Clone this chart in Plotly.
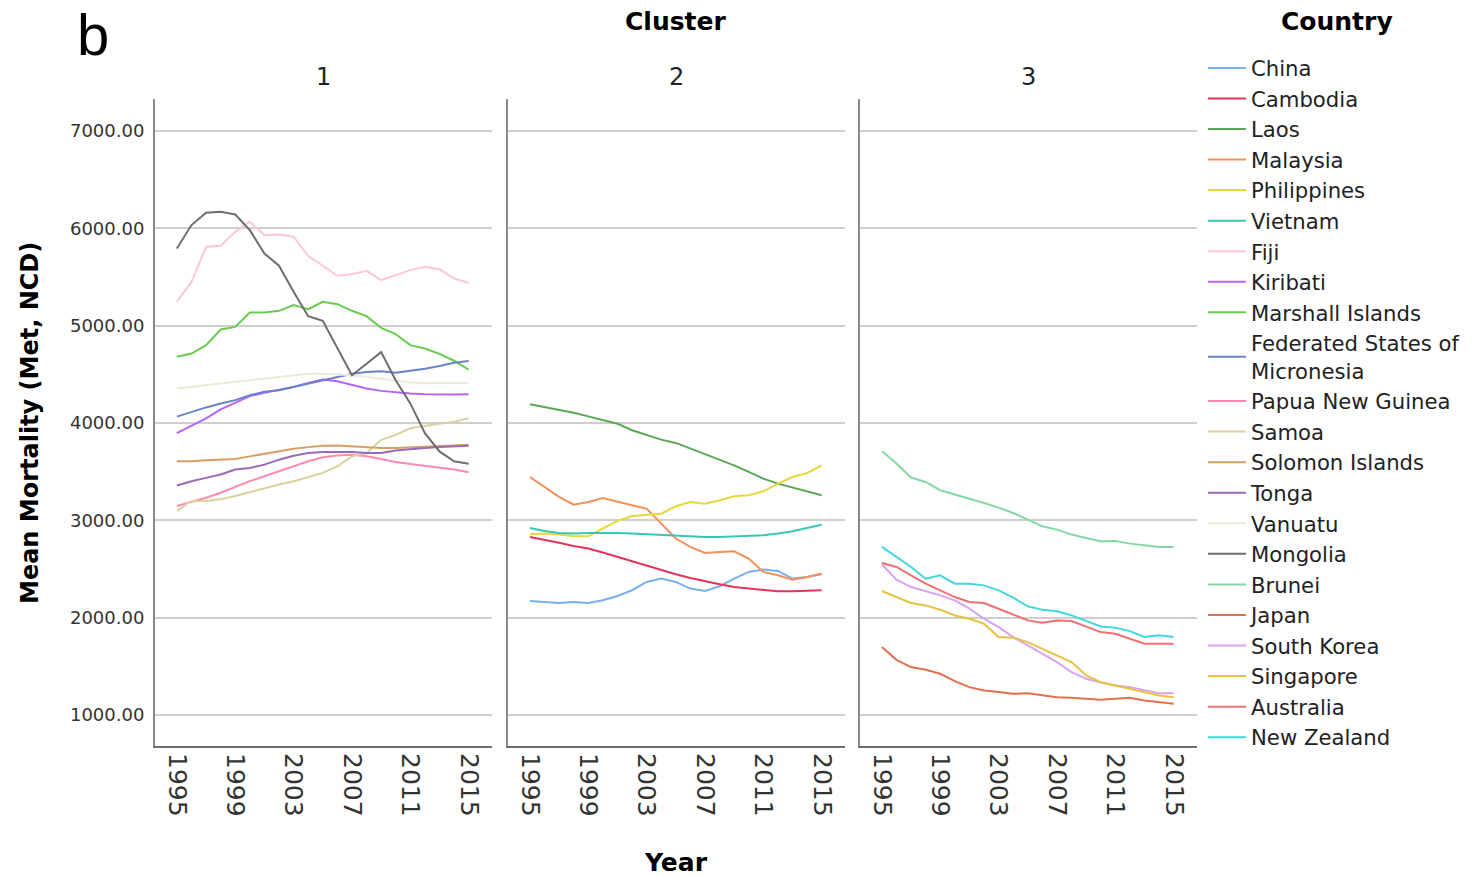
import plotly.graph_objects as go

W, H = 1475, 878
ML, MR, MT, MB = 155, 278, 99, 132
PW, PH = W - ML - MR, H - MT - MB

years = list(range(1995, 2016))
year_ticks = [1995, 1999, 2003, 2007, 2011, 2015]
mortality_ticks = [1000, 2000, 3000, 4000, 5000, 6000, 7000]
cluster_labels = ["1", "2", "3"]

# Cluster 2
china = [2171, 2161, 2151, 2161, 2151, 2178, 2222, 2281, 2366, 2401, 2366,
         2298, 2274, 2322, 2401, 2469, 2493, 2479, 2401, 2418, 2445]
cambodia = [2829, 2801, 2770, 2736, 2709, 2668, 2623, 2572, 2527, 2486, 2445,
            2407, 2373, 2342, 2315, 2298, 2281, 2270, 2270, 2274, 2281]
laos = [4192, 4164, 4137, 4106, 4068, 4027, 3993, 3925, 3873, 3829, 3795,
        3736, 3678, 3623, 3565, 3497, 3428, 3377, 3336, 3291, 3257]
malaysia = [3445, 3342, 3240, 3161, 3188, 3229, 3188, 3154, 3120, 2966, 2812,
            2726, 2664, 2675, 2681, 2606, 2469, 2435, 2390, 2418, 2452]
philippines = [2856, 2863, 2853, 2836, 2836, 2914, 2993, 3044, 3058, 3068, 3144,
               3188, 3171, 3205, 3247, 3257, 3298, 3377, 3445, 3486, 3565]
vietnam = [2921, 2890, 2870, 2863, 2870, 2873, 2870, 2863, 2856, 2846, 2839,
           2836, 2829, 2829, 2836, 2839, 2846, 2863, 2887, 2921, 2955]

# Cluster 1
fiji = [5245, 5451, 5811, 5821, 5965, 6068, 5931, 5938, 5914, 5715, 5616,
        5513, 5530, 5564, 5468, 5520, 5571, 5605, 5581, 5485, 5441]
kiribati = [3895, 3970, 4048, 4140, 4208, 4276, 4310, 4337, 4371, 4412, 4446,
            4429, 4388, 4354, 4330, 4313, 4303, 4296, 4292, 4292, 4296]
marshall_islands = [4680, 4714, 4800, 4961, 4988, 5136, 5136, 5153, 5211, 5170, 5245,
                    5221, 5153, 5098, 4978, 4913, 4800, 4766, 4710, 4640, 4548]
micronesia = [4065, 4116, 4160, 4201, 4235, 4286, 4320, 4337, 4371, 4405, 4439,
              4466, 4507, 4524, 4531, 4517, 4534, 4558, 4585, 4619, 4636]
papua_new_guinea = [3147, 3188, 3232, 3283, 3344, 3402, 3453, 3504, 3555, 3606, 3647,
                    3667, 3674, 3657, 3630, 3599, 3579, 3562, 3545, 3521, 3494]
samoa = [3096, 3198, 3198, 3215, 3249, 3290, 3334, 3368, 3402, 3446, 3487,
         3555, 3657, 3691, 3827, 3878, 3946, 3970, 3990, 4014, 4048]
solomon_islands = [3606, 3606, 3616, 3623, 3630, 3657, 3684, 3708, 3735, 3752, 3766,
                   3769, 3759, 3752, 3742, 3742, 3749, 3752, 3759, 3769, 3776]
tonga = [3358, 3402, 3436, 3470, 3521, 3538, 3572, 3623, 3664, 3691, 3701,
         3701, 3701, 3691, 3691, 3718, 3732, 3742, 3752, 3759, 3766]
vanuatu = [4354, 4371, 4388, 4405, 4422, 4439, 4456, 4480, 4497, 4507, 4507,
           4500, 4490, 4473, 4456, 4432, 4415, 4412, 4412, 4412, 4412]
mongolia = [5794, 6034, 6160, 6171, 6143, 5982, 5742, 5616, 5348, 5098, 5050,
            4772, 4490, 4609, 4728, 4439, 4201, 3895, 3708, 3606, 3582]

# Cluster 3
brunei = [3713, 3583, 3439, 3394, 3309, 3268, 3223, 3178, 3130, 3075, 3007,
          2938, 2904, 2853, 2818, 2784, 2787, 2760, 2743, 2726, 2726]
japan = [1697, 1566, 1491, 1463, 1422, 1347, 1285, 1251, 1234, 1216, 1223,
         1199, 1182, 1175, 1162, 1155, 1165, 1175, 1148, 1131, 1114]
south_korea = [2547, 2389, 2314, 2273, 2228, 2177, 2091, 1988, 1902, 1800, 1714,
               1628, 1542, 1439, 1371, 1336, 1302, 1285, 1251, 1223, 1223]
singapore = [2273, 2211, 2150, 2125, 2081, 2022, 1988, 1937, 1800, 1793, 1748,
             1679, 1611, 1542, 1405, 1336, 1302, 1268, 1234, 1200, 1182]
australia = [2561, 2520, 2434, 2348, 2280, 2211, 2160, 2150, 2091, 2033, 1971,
             1947, 1971, 1964, 1909, 1851, 1834, 1782, 1731, 1731, 1731]
new_zealand = [2726, 2623, 2520, 2400, 2434, 2348, 2348, 2331, 2280, 2204, 2115,
               2081, 2064, 2023, 1964, 1909, 1896, 1861, 1800, 1817, 1800]

# (legend label, cluster, series)
countries = [
    ("China", 2, china),
    ("Cambodia", 2, cambodia),
    ("Laos", 2, laos),
    ("Malaysia", 2, malaysia),
    ("Philippines", 2, philippines),
    ("Vietnam", 2, vietnam),
    ("Fiji", 1, fiji),
    ("Kiribati", 1, kiribati),
    ("Marshall Islands", 1, marshall_islands),
    ("Federated States of<br>Micronesia", 1, micronesia),
    ("Papua New Guinea", 1, papua_new_guinea),
    ("Samoa", 1, samoa),
    ("Solomon Islands", 1, solomon_islands),
    ("Tonga", 1, tonga),
    ("Vanuatu", 1, vanuatu),
    ("Mongolia", 1, mongolia),
    ("Brunei", 3, brunei),
    ("Japan", 3, japan),
    ("South Korea", 3, south_korea),
    ("Singapore", 3, singapore),
    ("Australia", 3, australia),
    ("New Zealand", 3, new_zealand),
]

line_colors = {
    "China": "#78aff0",
    "Cambodia": "#e5345a",
    "Laos": "#58a858",
    "Malaysia": "#f68f58",
    "Philippines": "#e6d83a",
    "Vietnam": "#38c6b4",
    "Fiji": "#fcc6dc",
    "Kiribati": "#b464f8",
    "Marshall Islands": "#68cc4e",
    "Federated States of<br>Micronesia": "#6a82cc",
    "Papua New Guinea": "#ff8ab2",
    "Samoa": "#d8d2a0",
    "Solomon Islands": "#d89e64",
    "Tonga": "#9a6ab6",
    "Vanuatu": "#eee9dc",
    "Mongolia": "#6e6e6e",
    "Brunei": "#86d8a2",
    "Japan": "#e07050",
    "South Korea": "#d8a2f0",
    "Singapore": "#e8c23e",
    "Australia": "#f27070",
    "New Zealand": "#42d6de",
}

FONT = "DejaVu Sans"
TXT = "#222222"

fig = go.Figure()
for name, cluster, series in countries:
    sfx = "" if cluster == 1 else str(cluster)
    fig.add_trace(go.Scatter(
        x=years, y=series, name=name, mode="lines",
        line=dict(color=line_colors[name], width=2),
        xaxis="x" + sfx, yaxis="y" + sfx,
    ))


def px_x(px):
    return (px - ML) / PW


def px_y(py):
    return (H - MB - py) / PH


panel_px = [(155, 492), (508, 845), (860, 1197)]
x_range = [1993.5, 2016.6]
y_range = [680, 7330]

axis_common = dict(showgrid=False, zeroline=False, showline=True,
                   linecolor="#6f6f6f", linewidth=2, range=x_range,
                   tickmode="array", tickvals=year_ticks,
                   ticktext=[str(v) for v in year_ticks],
                   tickangle=90, ticks="",
                   tickfont=dict(family=FONT, size=25, color="#333333"))
yaxis_common = dict(range=y_range, showgrid=True, gridcolor="#cfcfcf",
                    gridwidth=2, zeroline=False, showline=True,
                    linecolor="#8a8a8a", linewidth=2, tickmode="array",
                    tickvals=mortality_ticks, ticks="",
                    tickformat=".2f",
                    tickfont=dict(family=FONT, size=18, color="#333333"))

layout = dict(
    width=W, height=H,
    margin=dict(l=ML, r=MR, t=MT, b=MB, pad=0, autoexpand=False),
    paper_bgcolor="white", plot_bgcolor="white",
    font=dict(family=FONT, color=TXT),
)
for i, (a, b) in enumerate(panel_px):
    sfx = "" if i == 0 else str(i + 1)
    layout["xaxis" + sfx] = dict(axis_common, domain=[px_x(a), px_x(b)],
                                 anchor="y" + sfx)
    ya = dict(yaxis_common, anchor="x" + sfx, domain=[0, 1])
    if i > 0:
        ya["showticklabels"] = False
        ya["matches"] = "y"
    else:
        ya["ticklabelstandoff"] = 5
    layout["yaxis" + sfx] = ya

layout["legend"] = dict(
    x=px_x(1203), xanchor="left", y=px_y(47.6), yanchor="top",
    font=dict(family=FONT, size=21.2, color=TXT),
    itemwidth=38, tracegroupgap=0, bgcolor="rgba(0,0,0,0)",
    borderwidth=0, maxheight=1,
)

annotations = [
    dict(text="b", x=px_x(93), y=px_y(34), font=dict(family="Liberation Sans", size=58, color="black")),
    dict(text="<b>Cluster</b>", x=px_x(676), y=px_y(22), font=dict(family=FONT, size=25, color="black")),
    dict(text="<b>Country</b>", x=px_x(1337), y=px_y(22), font=dict(family=FONT, size=25, color="black")),
    dict(text="<b>Year</b>", x=px_x(676), y=px_y(862), font=dict(family=FONT, size=25, color="black")),
    dict(text="<b>Mean Mortality (Met, NCD)</b>", x=px_x(30), y=px_y(423), textangle=-90,
         font=dict(family=FONT, size=24, color="black")),
]
for (a, b), lab in zip(panel_px, cluster_labels):
    annotations.append(dict(text=lab, x=px_x((a + b) / 2), y=px_y(77),
                            font=dict(family=FONT, size=24, color=TXT)))
for ann in annotations:
    ann.update(xref="paper", yref="paper", showarrow=False,
               xanchor="center", yanchor="middle")
layout["annotations"] = annotations

fig.update_layout(**layout)
fig.write_html("out.html")
